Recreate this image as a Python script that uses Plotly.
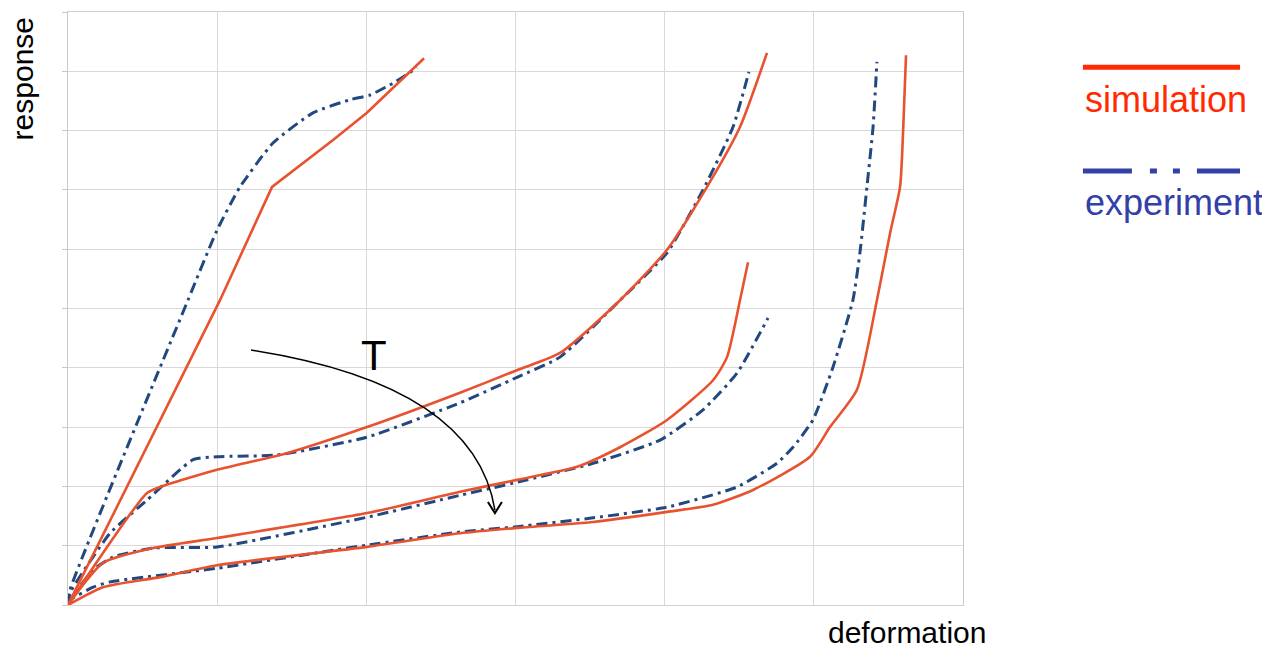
import plotly.graph_objects as go

# simulation curves (red, solid)
sim1_x = [0, 1.019, 1.368, 1.777, 2.004, 2.387]
sim1_y = [0, 5.14, 7.05, 7.84, 8.30, 9.22]
sim2_x = [0, 0.530, 0.617, 0.999, 1.468, 2.004, 2.628, 3.010, 3.298, 3.701, 4.016, 4.284, 4.505, 4.686]
sim2_y = [0, 1.89, 1.99, 2.28, 2.56, 3.00, 3.58, 3.96, 4.25, 5.14, 5.99, 7.05, 8.06, 9.31]
sim3_x = [0, 0.235, 0.570, 0.999, 2.004, 2.628, 3.010, 3.412, 3.701, 4.016, 4.324, 4.418, 4.505, 4.559]
sim3_y = [0, 0.71, 0.96, 1.13, 1.55, 1.91, 2.11, 2.33, 2.66, 3.12, 3.79, 4.18, 5.14, 5.78]
sim4_x = [0, 0.235, 0.617, 0.999, 2.004, 2.628, 3.010, 3.520, 4.016, 4.324, 4.592, 4.974, 5.108,
          5.289, 5.423, 5.511, 5.578, 5.598, 5.618]
sim4_y = [0, 0.30, 0.47, 0.67, 0.98, 1.21, 1.30, 1.40, 1.57, 1.69, 1.94, 2.50, 3.00,
          3.63, 5.14, 6.27, 7.05, 7.96, 9.27]

# experiment curves (blue, dash-dot)
exp1_x = [0, 0.013, 0.804, 0.999, 1.153, 1.374, 1.642, 1.890, 2.025, 2.179, 2.340]
exp1_y = [0, 0.25, 5.14, 6.32, 7.05, 7.79, 8.30, 8.52, 8.60, 8.80, 9.06]
exp2_x = [0, 0.013, 0.282, 0.530, 0.838, 0.999, 1.401, 2.004, 2.628, 3.010, 3.298, 3.701,
          4.016, 4.257, 4.458, 4.565]
exp2_y = [0, 0.20, 1.21, 1.77, 2.45, 2.50, 2.53, 2.83, 3.41, 3.84, 4.18, 5.14,
          5.94, 7.00, 8.06, 8.99]
exp3_x = [0, 0.013, 0.168, 0.302, 0.570, 0.999, 2.004, 2.628, 3.010, 3.520, 3.969, 4.257, 4.485, 4.693]
exp3_y = [0, 0.08, 0.59, 0.81, 0.96, 0.98, 1.48, 1.85, 2.07, 2.39, 2.78, 3.29, 3.91, 4.84]
exp4_x = [0, 0.013, 0.168, 0.282, 0.999, 2.004, 2.628, 3.010, 3.520, 4.016, 4.485, 4.753,
          4.860, 4.994, 5.128, 5.262, 5.309, 5.356, 5.397, 5.423]
exp4_y = [0, 0.08, 0.30, 0.39, 0.62, 1.01, 1.23, 1.32, 1.47, 1.65, 1.99, 2.39,
          2.66, 3.12, 4.01, 5.14, 5.94, 7.05, 8.06, 9.16]

sim_color = "#e8522f"
exp_color = "#21497f"
font = "Arial, Liberation Sans, sans-serif"

fig = go.Figure()

for xs, ys in [(exp1_x, exp1_y), (exp2_x, exp2_y), (exp3_x, exp3_y), (exp4_x, exp4_y)]:
    fig.add_trace(go.Scatter(
        x=xs, y=ys, mode="lines", showlegend=False, hoverinfo="skip",
        line=dict(color=exp_color, width=3, dash="11px,5px,3px,5px",
                  shape="spline", smoothing=0.5),
    ))

# first red curve has a sharp knee, keep it straight
for i, (xs, ys) in enumerate([(sim1_x, sim1_y), (sim2_x, sim2_y), (sim3_x, sim3_y), (sim4_x, sim4_y)]):
    fig.add_trace(go.Scatter(
        x=xs, y=ys, mode="lines", showlegend=False, hoverinfo="skip",
        line=dict(color=sim_color, width=2.6,
                  shape="linear" if i == 0 else "spline", smoothing=0.6),
    ))

shapes = [
    # temperature arrow
    dict(type="path", xref="x", yref="y", path="M 1.227,4.30 Q 2.728,3.71 2.862,1.60",
         line=dict(color="black", width=1.5)),
    dict(type="path", xref="x", yref="y", path="M 2.815,1.736 L 2.862,1.551 L 2.909,1.736",
         line=dict(color="black", width=2)),
    # legend lines
    dict(type="line", xref="paper", yref="paper", x0=1.134, x1=1.3095, y0=0.907, y1=0.907,
         line=dict(color="#ff2a00", width=5)),
    dict(type="line", xref="paper", yref="paper", x0=1.134, x1=1.3095, y0=0.732, y1=0.732,
         line=dict(color="#3340aa", width=5, dash="49px,18px,7px,16px,7px,17px,48px")),
]

annotations = [
    dict(x=2.051, y=4.20, xref="x", yref="y", text="T", showarrow=False,
         xanchor="center", yanchor="middle",
         font=dict(family=font, size=42, color="black")),
    dict(x=1.134, y=0.853, xref="paper", yref="paper", text="simulation", showarrow=False,
         xanchor="left", yanchor="middle", font=dict(family=font, size=36, color="#ff2a00")),
    dict(x=1.134, y=0.678, xref="paper", yref="paper", text="experiment", showarrow=False,
         xanchor="left", yanchor="middle", font=dict(family=font, size=36, color="#3340aa")),
    dict(x=-0.0514, y=0.888, xref="paper", yref="paper", text="response", showarrow=False,
         xanchor="center", yanchor="middle", borderpad=0,
         textangle=-90, font=dict(family=font, size=30, color="black")),
    dict(x=0.9374, y=-0.047, xref="paper", yref="paper", text="deformation", showarrow=False,
         xanchor="center", yanchor="middle", borderpad=0,
         font=dict(family=font, size=30, color="black")),
]

# page body has an 8px margin, so the figure is a bit smaller than the window
fig.update_layout(
    width=1262, height=642,
    margin=dict(l=60, r=307, t=4, b=45),
    paper_bgcolor="white", plot_bgcolor="white",
    showlegend=False,
    shapes=shapes,
    annotations=annotations,
    xaxis=dict(range=[0, 6], dtick=1, showgrid=True, gridcolor="#d9d9d9", gridwidth=1,
               showline=True, linecolor="#d0d0d0", mirror=True, zeroline=False,
               showticklabels=False, ticks=""),
    yaxis=dict(range=[0, 10], dtick=1, showgrid=True, gridcolor="#d9d9d9", gridwidth=1,
               showline=True, linecolor="#c8c8c8", mirror=True, zeroline=False,
               showticklabels=False, ticks="outside", ticklen=5, tickcolor="#c8c8c8"),
)

fig.write_html("out.html")
